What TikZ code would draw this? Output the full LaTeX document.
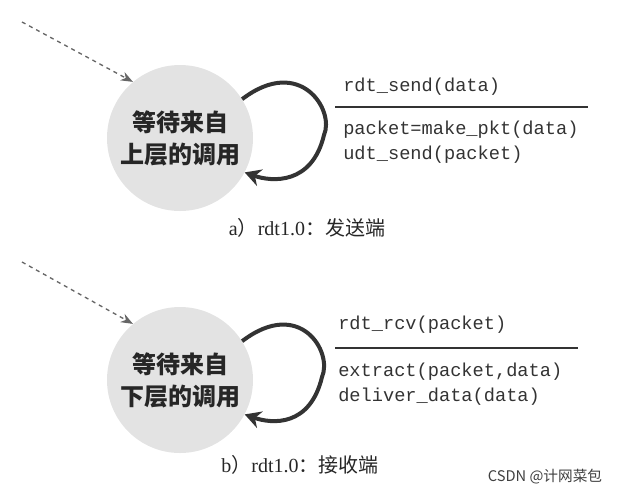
\documentclass[tikz,border=0pt]{standalone}
\usepackage{fontspec}
\setmainfont{Liberation Serif}
\setmonofont{Liberation Mono}
\newfontfamily\cjk{Noto Sans CJK SC}
\usetikzlibrary{arrows.meta}
\tikzset{
  state/.style={circle, fill=gray!22, minimum size=146*0.75pt, inner sep=0pt, align=center,
    font=\cjk\bfseries\fontsize{18}{24}\selectfont, text=black!85},
  loop/.style={line width=3pt, black!80, -{Stealth[length=12pt,width=13pt]}},
  entry/.style={dashed, line width=1pt, gray!80!black, -{Stealth[length=9pt,width=7pt]}},
  code/.style={anchor=west, font=\ttfamily\fontsize{14}{16}\selectfont, text=black!80, inner sep=0pt},
  caption/.style={font=\fontsize{15}{18}\selectfont, text=black!85}
}
\begin{document}
\begin{tikzpicture}[x=0.75pt, y=-0.75pt]
  \useasboundingbox (0,0) rectangle (623,497);
  % sender
  \node[state] (wa) at (180,138) {等待来自\\上层的调用};
  \coordinate (ea) at (22,22);
  \draw[entry] (ea) -- (wa.130);
  \draw[loop] (wa.32) .. controls (300,55) and (335,110) .. (324,135)
              .. controls (312,185) and (272,182) .. (wa.-28);
  \node[code] (sa) at (343,87) {rdt\_send(data)};
  \draw[line width=1.2pt, black!80] (335,107) -- (588,107);
  \node[code] (pa) at (343,130) {packet=make\_pkt(data)};
  \node[code] (ua) at (343,155) {udt\_send(packet)};
  \node[caption] (ca) at (307,228) {a{\cjk ）}rdt1.0{\cjk ：发送端}};
  % receiver
  \node[state] (wb) at (180,380) {等待来自\\下层的调用};
  \coordinate (eb) at (22,262);
  \draw[entry] (eb) -- (wb.130);
  \draw[loop] (wb.32) .. controls (300,297) and (333,352) .. (322,377)
              .. controls (310,427) and (272,424) .. (wb.-28);
  \node[code] (rb) at (338,325) {rdt\_rcv(packet)};
  \draw[line width=1.2pt, black!80] (335,348) -- (578,348);
  \node[code] (xb) at (338,372) {extract(packet,data)};
  \node[code] (db) at (338,397) {deliver\_data(data)};
  \node[caption] (cb) at (300,465) {b{\cjk ）}rdt1.0{\cjk ：接收端}};
  \node[font=\cjk\fontsize{11}{13}\selectfont, text=black!75] (wm) at (545,477) {CSDN @计网菜包};
\end{tikzpicture}
\end{document}
